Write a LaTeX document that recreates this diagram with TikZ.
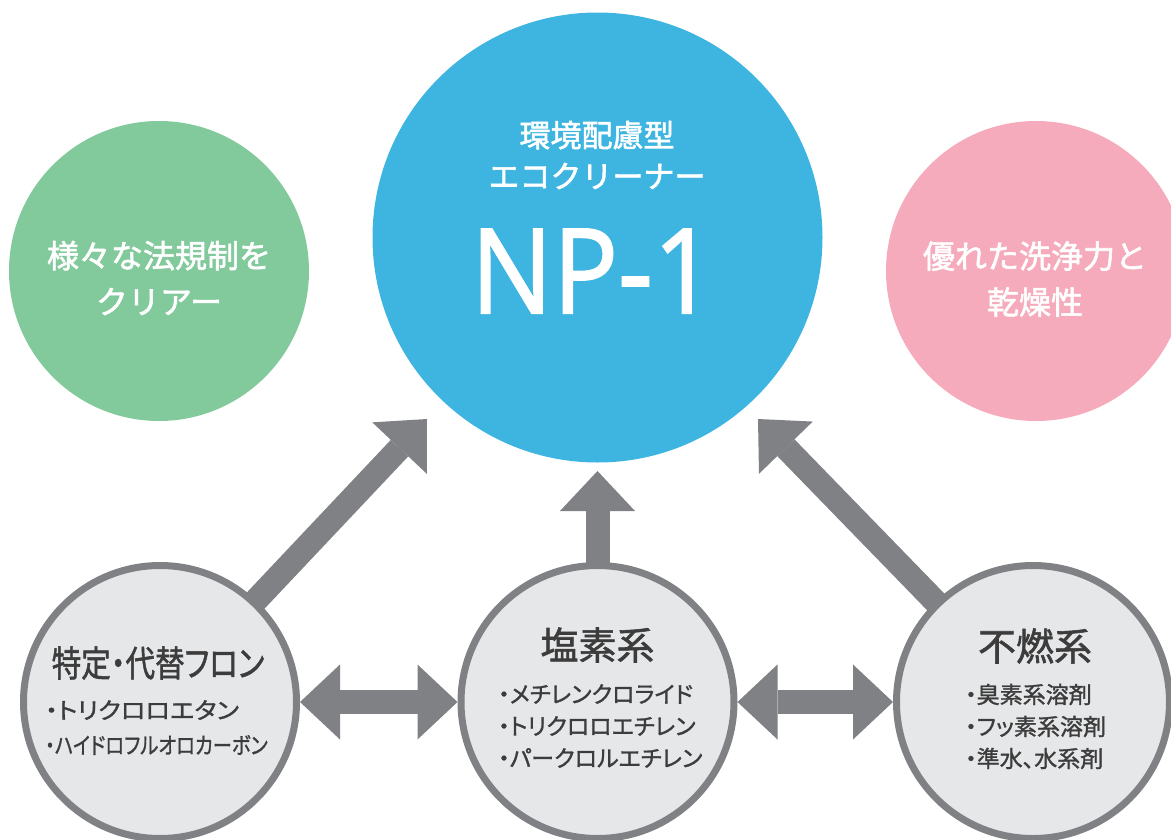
\documentclass[tikz,border=0pt]{standalone}
\usepackage{fontspec}
\newfontfamily\jpfont{Noto Sans CJK JP}[FakeBold=1.8]
\newfontfamily\jphead{Noto Sans CJK JP}[RawFeature=+palt, FakeBold=1.5]
\newfontfamily\jplist{Noto Sans CJK JP}[RawFeature=+palt, FakeBold=1.2]
\newfontfamily\npfont{Open Sans}[FakeBold=1.5]
\usetikzlibrary{arrows.meta,backgrounds}

\definecolor{npblue}{HTML}{3DB5E0}
\definecolor{lawgreen}{HTML}{82CA9C}
\definecolor{washpink}{HTML}{F5ABBB}
\definecolor{arrowgrey}{HTML}{808184}
\definecolor{diskgrey}{HTML}{E6E7E8}
\definecolor{inkgrey}{HTML}{3C3C3C}

\tikzset{
  disk/.style={circle, inner sep=0pt, outer sep=0pt},
  solvent/.style={circle, draw=arrowgrey, line width=7pt, fill=diskgrey, minimum size=273pt, inner sep=0pt},
  fatarrow/.style={draw=arrowgrey, line width=24pt, ->},
  whitetext/.style={text=white, align=center, inner sep=0pt, font=\jpfont\fontsize{32}{46}\selectfont},
  headtext/.style={text=inkgrey, inner sep=0pt, font=\jphead\fontsize{38}{38}\selectfont},
  listtext/.style={text=inkgrey, align=left, anchor=west, inner sep=0pt, font=\jplist\fontsize{23}{32}\selectfont}
}

\begin{document}
\begin{tikzpicture}[x=1pt, y=-1pt, >={Triangle[length=40pt 0, width=75pt 0, line width=0pt 0]}]
  \useasboundingbox (0,0) rectangle (1171,839);
  % top row
  \node[disk, fill=lawgreen, minimum size=300pt] (law) at (159,271) {};
  \node[disk, fill=npblue, minimum size=450pt] (np1) at (597.5,237.5) {};
  \node[disk, fill=washpink, minimum size=300pt] (wash) at (1036,271) {};
  \node[whitetext] (lawtext) at (159,278) {様々な法規制を\\クリアー};
  \node[whitetext, font=\jpfont\fontsize{31}{41}\selectfont] (np1text) at (597,155) {環境配慮型\\エコクリーナー};
  \node[text=white, inner sep=0pt, font=\npfont\fontsize{118}{118}\selectfont] (np1name) at (593,271) {\scalebox{0.92}[1]{NP-1}};
  \node[whitetext] (washtext) at (1035,279) {優れた洗浄力と\\乾燥性};
  % solvents
  \node[solvent] (fron) at (160,702) {};
  \node[solvent] (enso) at (597.5,702) {};
  \node[solvent] (funen) at (1033,702) {};
  \node[headtext, font=\jphead\fontsize{36}{36}\selectfont] (frontitle) at (158,663) {\scalebox{0.82}[1]{特定・代替フロン}};
  \node[listtext, font=\jplist\fontsize{23}{35}\selectfont] (fronlist) at (45,727.5) {\scalebox{1.1}[1]{・トリクロロエタン}\\\scalebox{0.84}[1]{・ハイドロフルオロカーボン}};
  \node[headtext] (ensotitle) at (597.5,645) {塩素系};
  \node[listtext] (ensolist) at (498,726) {・メチレンクロライド\\・トリクロロエチレン\\・パークロルエチレン};
  \node[headtext] (funentitle) at (1035,646) {不燃系};
  \node[listtext] (funenlist) at (965,726.5) {・臭素系溶剤\\・フッ素系溶剤\\・準水、水系剤};
  % arrows
  \coordinate (ltip) at (427,419);
  \coordinate (mtip) at (597.5,471);
  \coordinate (rtip) at (758,419);
  \begin{scope}[on background layer]
    \draw[fatarrow] (fron.center) -- (ltip);
    \draw[fatarrow] (enso.center) -- (mtip);
    \draw[fatarrow] (funen.center) -- (rtip);
  \end{scope}
  \draw[fatarrow, <->] (fron) -- (enso);
  \draw[fatarrow, <->] (enso) -- (funen);
\end{tikzpicture}
\end{document}
